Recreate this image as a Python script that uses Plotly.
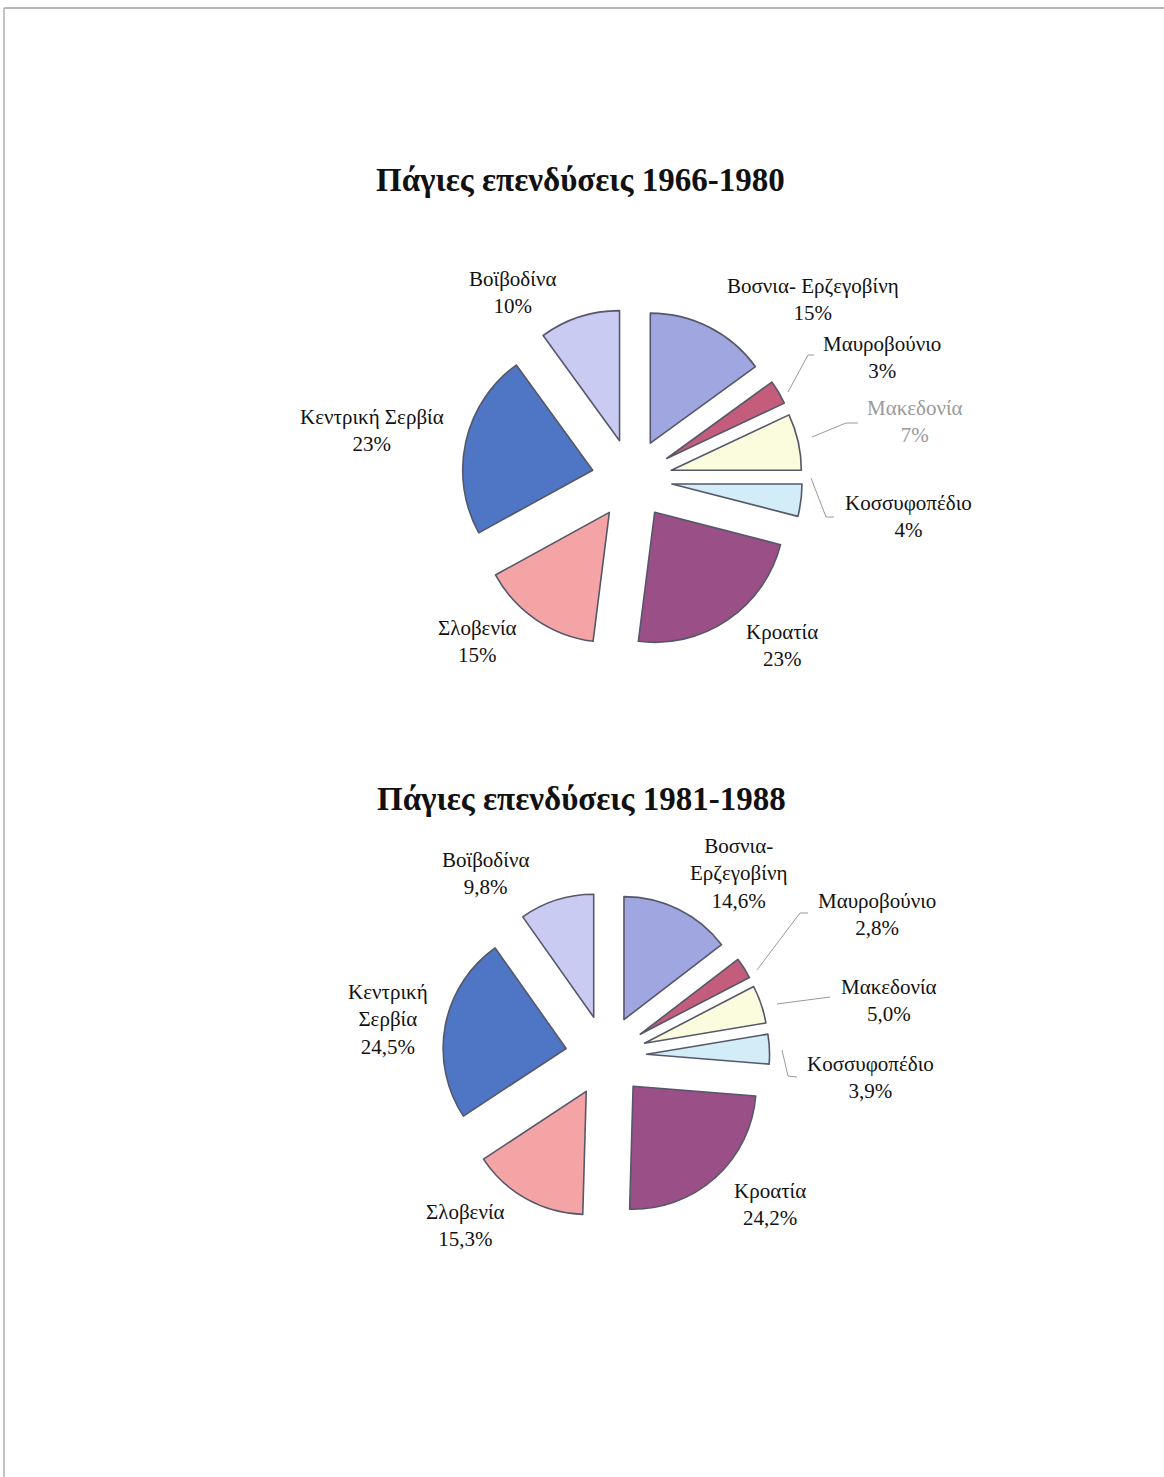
import plotly.graph_objects as go

# ---------------- data ----------------
regions = ["Βοσνια- Ερζεγοβίνη", "Μαυροβούνιο", "Μακεδονία", "Κοσσυφοπέδιο",
           "Κροατία", "Σλοβενία", "Κεντρική Σερβία", "Βοϊβοδίνα"]
label_names_1 = ["Βοσνια- Ερζεγοβίνη", "Μαυροβούνιο", "Μακεδονία", "Κοσσυφοπέδιο",
                 "Κροατία", "Σλοβενία", "Κεντρική Σερβία", "Βοϊβοδίνα"]
label_names_2 = ["Βοσνια-<br>Ερζεγοβίνη", "Μαυροβούνιο", "Μακεδονία", "Κοσσυφοπέδιο",
                 "Κροατία", "Σλοβενία", "Κεντρική<br>Σερβία", "Βοϊβοδίνα"]
values_1966_1980 = [15, 3, 7, 4, 23, 15, 23, 10]
values_1981_1988 = [14.6, 2.8, 5.0, 3.9, 24.2, 15.3, 24.5, 9.8]
title_1 = "Πάγιες επενδύσεις 1966-1980"
title_2 = "Πάγιες επενδύσεις 1981-1988"

colors = ["#9fa6e0", "#c45d7c", "#fbfbdd", "#d2ecf8",
          "#9a4f87", "#f4a4a4", "#4f76c4", "#cacbf2"]

W, H = 1164, 1477
FONT = "Liberation Serif"


def px(x):
    return x / W


def py(y):
    return 1 - y / H


def dom(cx, cy, half):
    return dict(x=[px(cx - half), px(cx + half)], y=[py(cy + half), py(cy - half)])


fig = go.Figure()

# pie 1
r1, pull1 = 130, 0.31
c1 = (632, 479)
fig.add_trace(go.Pie(
    labels=regions, values=values_1966_1980, sort=False, direction="clockwise",
    rotation=0, pull=[pull1] * len(regions), textinfo="none", hoverinfo="label+percent",
    marker=dict(colors=colors, line=dict(color="#55576a", width=1.6)),
    domain=dom(c1[0], c1[1], r1 * (1 + pull1)), showlegend=False,
))

# pie 2
r2, pull2 = 123, 0.33
c2 = (606, 1056)
fig.add_trace(go.Pie(
    labels=regions, values=values_1981_1988, sort=False, direction="clockwise",
    rotation=0, pull=[pull2] * len(regions), textinfo="none", hoverinfo="label+percent",
    marker=dict(colors=colors, line=dict(color="#55576a", width=1.6)),
    domain=dom(c2[0], c2[1], r2 * (1 + pull2)), showlegend=False,
))


def fmt(v, decimals):
    s = f"{v:.{decimals}f}%"
    return s.replace(".", ",")


annotations = []

# titles
for t, (x, y) in [(title_1, (580, 180)), (title_2, (581, 799))]:
    annotations.append(dict(text="<b>" + t + "</b>", x=px(x), y=py(y), xref="paper", yref="paper",
                            showarrow=False, xanchor="center", yanchor="middle",
                            font=dict(family=FONT, size=33, color="#111111")))

# label positions (center of the text block) for chart 1 and 2
pos_1 = [(813, 300), (882, 358), (915, 421), (908, 516), (782, 645), (477, 641), (372, 430), (512, 292)]
pos_2 = [(738, 873), (877, 914), (889, 1000), (870, 1077), (770, 1204), (465, 1225), (388, 1019), (485, 873)]

for names, vals, poss, dec in [(label_names_1, values_1966_1980, pos_1, 0),
                               (label_names_2, values_1981_1988, pos_2, 1)]:
    for i, (n, v, (x, y)) in enumerate(zip(names, vals, poss)):
        col = "#9a9a9a" if (dec == 0 and i == 2) else "#111111"
        annotations.append(dict(text=n + "<br>" + fmt(v, dec), x=px(x), y=py(y),
                                xref="paper", yref="paper", showarrow=False,
                                xanchor="center", yanchor="middle", align="center",
                                font=dict(family=FONT, size=21, color=col)))

# leader lines (decorative connectors)
leaders = [
    [(788, 392), (808, 355), (814, 355)],
    [(812, 437), (846, 423), (858, 423)],
    [(811, 478), (826, 517), (834, 517)],
    [(757, 970), (800, 913), (808, 913)],
    [(777, 1004), (830, 997)],
    [(782, 1050), (788, 1076), (797, 1077)],
]
shapes = []
for pts in leaders:
    path = "M " + " L ".join(f"{px(a)},{py(b)}" for a, b in pts)
    shapes.append(dict(type="path", path=path, xref="paper", yref="paper",
                       line=dict(color="#9a9a9a", width=1)))

# scanned page frame
shapes.append(dict(type="line", xref="paper", yref="paper", x0=px(4), x1=1, y0=py(8), y1=py(8),
                   line=dict(color="#a0a0a0", width=1.5)))
shapes.append(dict(type="line", xref="paper", yref="paper", x0=px(4), x1=px(4), y0=py(8), y1=0,
                   line=dict(color="#b0b0b0", width=1.5)))

fig.update_layout(
    width=W, height=H, margin=dict(l=0, r=0, t=0, b=0),
    paper_bgcolor="white", plot_bgcolor="white",
    annotations=annotations, shapes=shapes, showlegend=False,
)

fig.write_html("out.html", config={"displayModeBar": False},
               post_script="document.body.style.margin='0px';")
